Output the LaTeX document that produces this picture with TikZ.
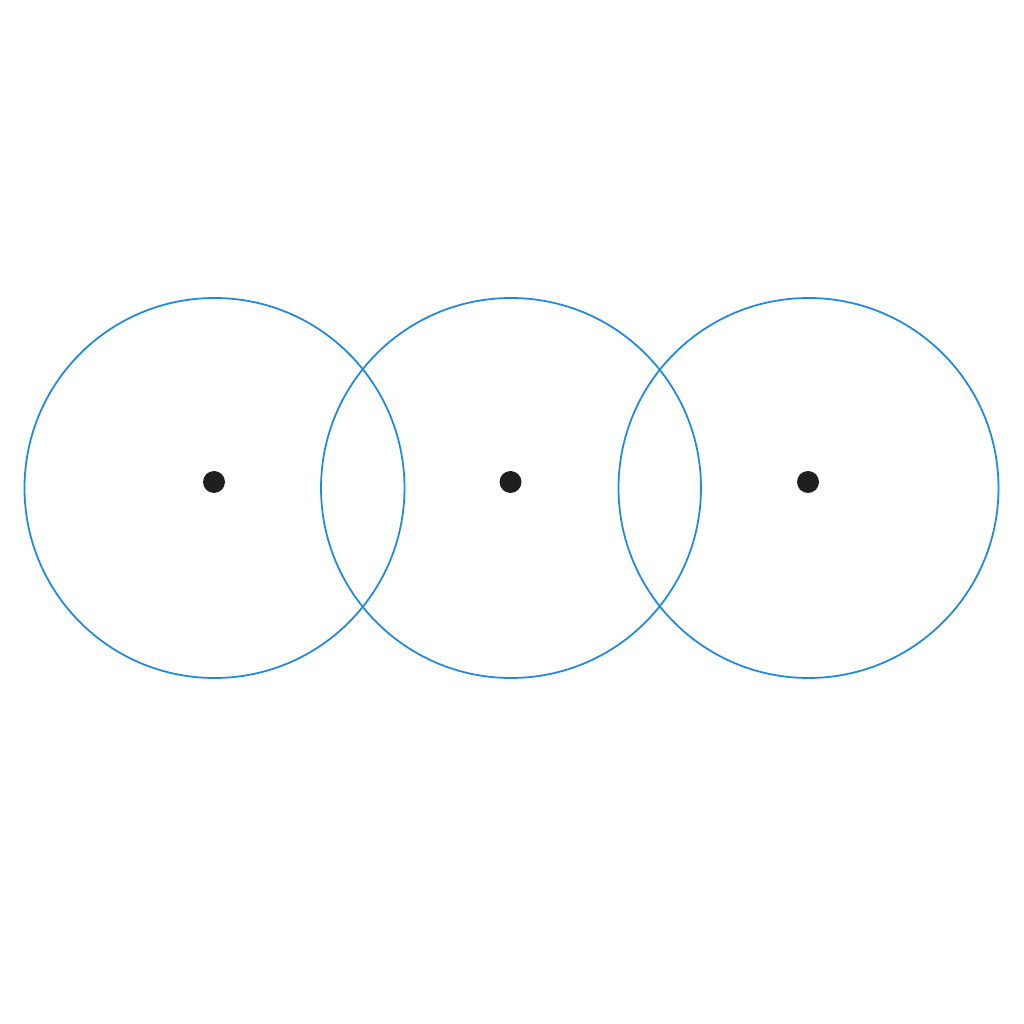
\documentclass[tikz,border=0pt]{standalone}
\usepackage{xcolor}
\definecolor{ringblue}{RGB}{30,136,229}
\tikzstyle{ring}=[circle, draw=ringblue, line width=0.5pt, inner sep=0pt, minimum size=3.8cm]
\tikzstyle{centre}=[circle, fill=black!88, inner sep=0pt, minimum size=0.22cm]
\newcommand{\ring}{\node[ring]}
\newcommand{\centre}{\node[centre]}
\begin{document}
\begin{tikzpicture}
\useasboundingbox (0,0) rectangle (10.24,10.24);
\foreach \i/\x in {1/2.145,2/5.11,3/8.085}{
	\ring (c\i) at (\x,5.36){};
	\centre (p\i) at (\x-0.005,5.42){};
	}
\end{tikzpicture}
\end{document}
